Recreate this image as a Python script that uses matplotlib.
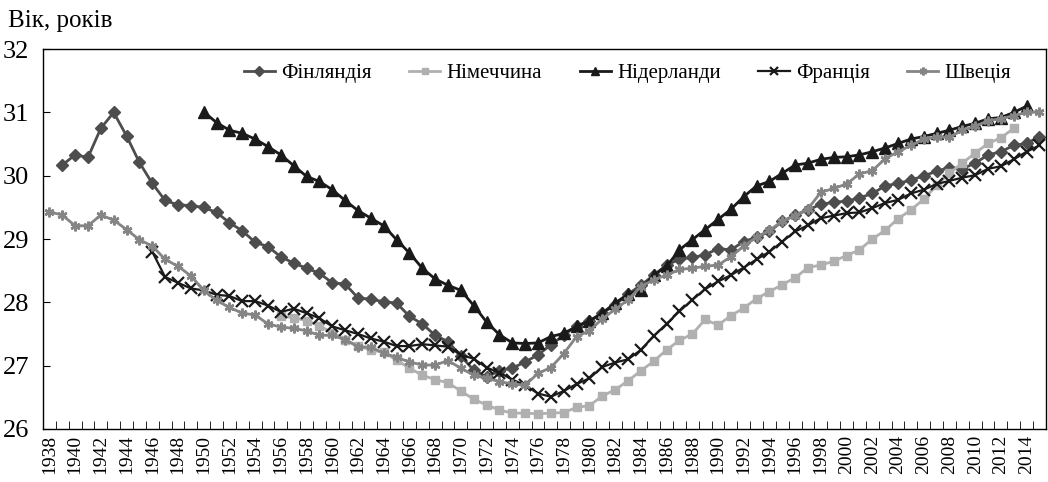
import numpy as np
import matplotlib.pyplot as plt

plt.rcParams['font.family'] = ['Liberation Serif', 'DejaVu Serif']

# середній вік матері при народженні першої дитини
fin_start = 1939
finland = [30.17, 30.33, 30.29, 30.75, 31.0, 30.63, 30.21, 29.88, 29.61, 29.54,
           29.53, 29.50, 29.42, 29.26, 29.13, 28.95, 28.88, 28.72, 28.62, 28.54,
           28.46, 28.31, 28.29, 28.07, 28.05, 28.01, 27.99, 27.78, 27.66, 27.48,
           27.38, 27.15, 26.93, 26.82, 26.92, 26.96, 27.06, 27.17, 27.33, 27.48,
           27.63, 27.70, 27.83, 27.96, 28.13, 28.27, 28.43, 28.59, 28.68, 28.71,
           28.75, 28.85, 28.83, 28.96, 29.03, 29.12, 29.28, 29.38, 29.46, 29.55,
           29.58, 29.60, 29.65, 29.72, 29.84, 29.88, 29.93, 30.00, 30.07, 30.13,
           30.11, 30.20, 30.33, 30.38, 30.48, 30.51, 30.62]

ger_start = 1956
germany = [27.78, 27.76, 27.71, 27.63, 27.52, 27.41, 27.31, 27.25, 27.21, 27.09,
           26.96, 26.85, 26.78, 26.73, 26.60, 26.47, 26.38, 26.30, 26.25, 26.25,
           26.24, 26.25, 26.26, 26.34, 26.37, 26.52, 26.62, 26.76, 26.92, 27.07,
           27.25, 27.40, 27.50, 27.73, 27.64, 27.79, 27.91, 28.06, 28.17, 28.28,
           28.39, 28.55, 28.59, 28.65, 28.74, 28.83, 29.00, 29.14, 29.32, 29.46,
           29.63, 29.85, 30.04, 30.20, 30.36, 30.51, 30.60, 30.75]

nl_start = 1950
netherlands = [31.01, 30.84, 30.72, 30.67, 30.58, 30.46, 30.33, 30.16, 29.99, 29.91,
               29.78, 29.61, 29.45, 29.33, 29.21, 28.99, 28.78, 28.54, 28.37, 28.27,
               28.19, 27.95, 27.69, 27.49, 27.36, 27.35, 27.36, 27.46, 27.51, 27.62,
               27.71, 27.83, 27.99, 28.13, 28.20, 28.43, 28.57, 28.83, 28.99, 29.15,
               29.31, 29.47, 29.67, 29.84, 29.91, 30.04, 30.17, 30.20, 30.26, 30.29,
               30.30, 30.33, 30.38, 30.44, 30.51, 30.58, 30.62, 30.67, 30.72, 30.78,
               30.83, 30.90, 30.92, 31.00, 31.10]

fr_start = 1946
france = [28.80, 28.40, 28.31, 28.22, 28.19, 28.12, 28.10, 28.02, 28.02, 27.95,
          27.85, 27.90, 27.83, 27.75, 27.62, 27.56, 27.50, 27.43, 27.38, 27.31,
          27.31, 27.34, 27.32, 27.30, 27.17, 27.11, 26.97, 26.89, 26.78, 26.69,
          26.56, 26.51, 26.60, 26.71, 26.80, 26.98, 27.05, 27.10, 27.25, 27.47,
          27.66, 27.86, 28.04, 28.21, 28.33, 28.43, 28.55, 28.68, 28.80, 28.96,
          29.12, 29.22, 29.33, 29.37, 29.41, 29.42, 29.49, 29.57, 29.62, 29.72,
          29.78, 29.87, 29.92, 29.97, 30.01, 30.11, 30.15, 30.26, 30.38, 30.48]

swe_start = 1938
sweden = [29.43, 29.38, 29.21, 29.21, 29.38, 29.30, 29.15, 28.99, 28.89, 28.68,
          28.57, 28.42, 28.19, 28.03, 27.92, 27.83, 27.80, 27.66, 27.61, 27.59,
          27.55, 27.48, 27.48, 27.41, 27.30, 27.29, 27.20, 27.13, 27.06, 27.01,
          27.01, 27.08, 26.96, 26.85, 26.80, 26.75, 26.71, 26.69, 26.88, 26.97,
          27.19, 27.46, 27.55, 27.74, 27.89, 28.04, 28.25, 28.36, 28.43, 28.52,
          28.54, 28.57, 28.59, 28.72, 28.89, 29.03, 29.14, 29.28, 29.37, 29.48,
          29.74, 29.80, 29.87, 30.03, 30.08, 30.27, 30.38, 30.48, 30.58, 30.61,
          30.61, 30.72, 30.78, 30.87, 30.90, 30.95, 31.00, 31.01]

def years(start, vals):
    return np.arange(start, start + len(vals))

fig = plt.figure(figsize=(10.48, 4.82), dpi=100)
ax = fig.add_axes([0.041, 0.110, 0.957, 0.788])

ax.plot(years(fin_start, finland), finland, color='#4d4d4d', lw=2,
        marker='D', ms=6, label='Фінляндія')
ax.plot(years(ger_start, germany), germany, color='#b0b0b0', lw=2,
        marker='s', ms=6, label='Німеччина')
ax.plot(years(nl_start, netherlands), netherlands, color='#1a1a1a', lw=2,
        marker='^', ms=8, label='Нідерланди')
ax.plot(years(fr_start, france), france, color='#1a1a1a', lw=1.6,
        marker='x', ms=8, mew=1.6, label='Франція')
ax.plot(years(swe_start, sweden), sweden, color='#858585', lw=2,
        marker=(6, 2, 0), ms=7, mew=1.8, label='Швеція')

ax.set_xlim(1937.5, 2015.5)
ax.set_ylim(26, 32)
ax.set_yticks(range(26, 33))
ax.tick_params(axis='y', direction='in', length=5, labelsize=19, pad=10)

label_years = np.arange(1938, 2015, 2)
ax.set_xticks(label_years)
ax.set_xticklabels([str(y) for y in label_years], rotation=90, fontsize=14)
ax.tick_params(axis='x', which='major', length=0, pad=4)
ax.set_xticks(np.arange(1937.5, 2016, 1), minor=True)
ax.tick_params(axis='x', which='minor', direction='in', length=6)

for s in ax.spines.values():
    s.set_linewidth(1.0)

fig.text(0.008, 0.945, 'Вік, років', fontsize=18, ha='left', va='baseline')

ax.legend(loc='upper right', ncol=5, frameon=False, fontsize=15,
          bbox_to_anchor=(0.98, 1.0), handlelength=1.5, columnspacing=1.8,
          handletextpad=0.3, borderaxespad=0.3, markerscale=0.8)

fig.savefig('out.png', dpi=100)
